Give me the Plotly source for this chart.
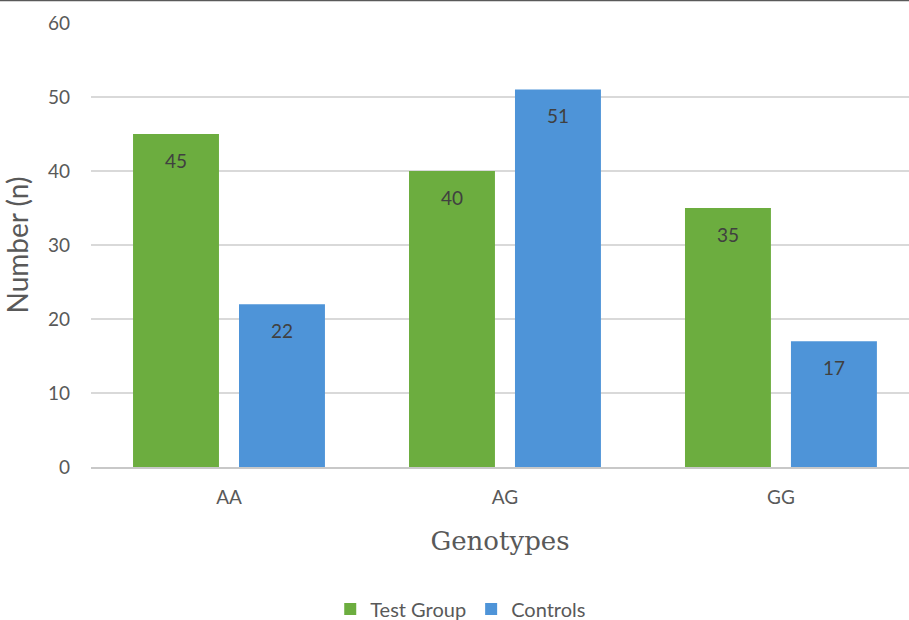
import plotly.graph_objects as go

categories = ["AA", "AG", "GG"]
test_group = [45, 40, 35]
controls = [22, 51, 17]
y_ticks = [0, 10, 20, 30, 40, 50, 60]

GREEN = "#6cad3f"
BLUE = "#4e94d8"
TXT = "#595959"

fig = go.Figure()
fig.add_trace(go.Bar(name="Test Group", x=categories, y=test_group,
                     marker=dict(color=GREEN, line=dict(width=0))))
fig.add_trace(go.Bar(name="Controls", x=categories, y=controls,
                     marker=dict(color=BLUE, line=dict(width=0))))

# data labels placed below the bar tops
for vals, xs in ((test_group, -53), (controls, 53)):
    for c, v in zip(categories, vals):
        fig.add_annotation(x=c, y=v, text=str(v), showarrow=False,
                           xshift=xs, yshift=-26, yanchor="middle",
                           font=dict(family="Lato", size=19, color="#404040"))

fig.add_shape(type="line", xref="paper", yref="paper",
              x0=-0.2, x1=1.0, y0=(467 - 0.5) / 444, y1=(467 - 0.5) / 444,
              line=dict(color="#595959", width=1.5))

fig.update_layout(
    width=909, height=620,
    margin=dict(l=91, r=0, t=23, b=153, autoexpand=False),
    paper_bgcolor="white", plot_bgcolor="white",
    barmode="group", bargap=0.232, bargroupgap=0.189,
    font=dict(family="Lato", color=TXT),
    showlegend=True,
    legend=dict(orientation="h", x=0.452, xanchor="center", y=-0.32, yanchor="middle",
                font=dict(family="Lato", size=20, color=TXT), itemwidth=30,
                traceorder="normal"),
    xaxis=dict(type="category", range=[-0.5, 2.464], showgrid=False,
               showline=True, linecolor="#c8c8c8", linewidth=1.5, ticks="",
               automargin=False, ticklabelstandoff=12,
               tickfont=dict(family="Lato", size=19, color=TXT),
               title=dict(text="Genotypes", standoff=25,
                          font=dict(family="DejaVu Serif", size=26, color=TXT))),
    yaxis=dict(range=[0, 60], tickvals=y_ticks, showgrid=True,
               gridcolor="#d9d9d9", gridwidth=1.5, zeroline=False,
               showline=False, ticks="", ticklabelstandoff=20, automargin=False,
               tickfont=dict(family="Lato", size=19, color=TXT),
               title=dict(text="Number (n)", standoff=14,
                          font=dict(family="Lato", size=28, color=TXT))),
)

fig.write_html("out.html")
